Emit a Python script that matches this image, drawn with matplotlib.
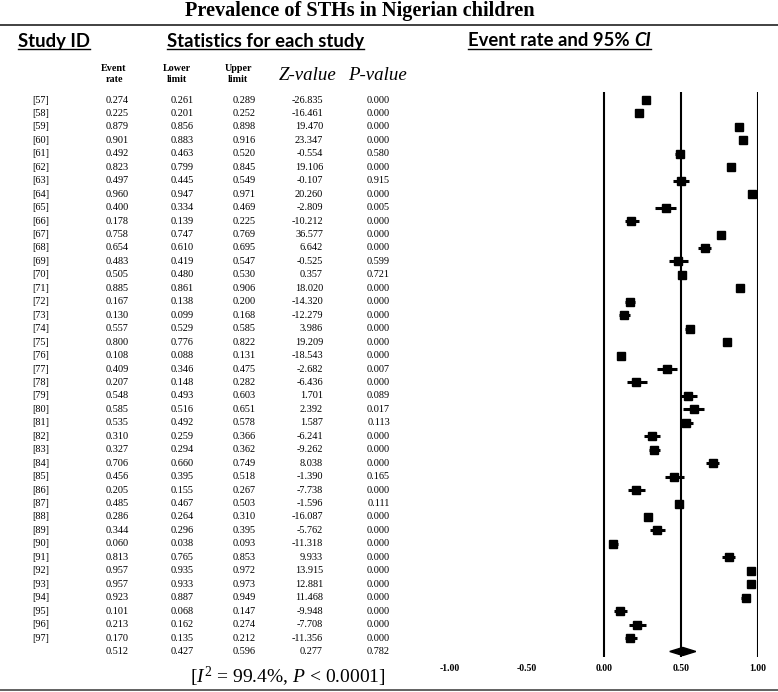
import numpy as np
import matplotlib
matplotlib.use('Agg')
import matplotlib.pyplot as plt
import matplotlib.transforms as mtransforms
from matplotlib.patches import Polygon

# study data
study_ids = ['[%d]' % n for n in range(57, 98)]
event_rate = [0.274, 0.225, 0.879, 0.901, 0.492, 0.823, 0.497, 0.960, 0.400, 0.178,
              0.758, 0.654, 0.483, 0.505, 0.885, 0.167, 0.130, 0.557, 0.800, 0.108,
              0.409, 0.207, 0.548, 0.585, 0.535, 0.310, 0.327, 0.706, 0.456, 0.205,
              0.485, 0.286, 0.344, 0.060, 0.813, 0.957, 0.957, 0.923, 0.101, 0.213, 0.170]
lower = [0.261, 0.201, 0.856, 0.883, 0.463, 0.799, 0.445, 0.947, 0.334, 0.139,
         0.747, 0.610, 0.419, 0.480, 0.861, 0.138, 0.099, 0.529, 0.776, 0.088,
         0.346, 0.148, 0.493, 0.516, 0.492, 0.259, 0.294, 0.660, 0.395, 0.155,
         0.467, 0.264, 0.296, 0.038, 0.765, 0.935, 0.933, 0.887, 0.068, 0.162, 0.135]
upper = [0.289, 0.252, 0.898, 0.916, 0.520, 0.845, 0.549, 0.971, 0.469, 0.225,
         0.769, 0.695, 0.547, 0.530, 0.906, 0.200, 0.168, 0.585, 0.822, 0.131,
         0.475, 0.282, 0.603, 0.651, 0.578, 0.366, 0.362, 0.749, 0.518, 0.267,
         0.503, 0.310, 0.395, 0.093, 0.853, 0.972, 0.973, 0.949, 0.147, 0.274, 0.212]
z_value = [-26.835, -16.461, 19.470, 23.347, -0.554, 19.106, -0.107, 20.260, -2.809, -10.212,
           36.577, 6.642, -0.525, 0.357, 18.020, -14.320, -12.279, 3.986, 19.209, -18.543,
           -2.682, -6.436, 1.701, 2.392, 1.587, -6.241, -9.262, 8.038, -1.390, -7.738,
           -1.596, -16.087, -5.762, -11.318, 9.933, 13.915, 12.881, 11.468, -9.948, -7.708, -11.356]
p_value = [0.000, 0.000, 0.000, 0.000, 0.580, 0.000, 0.915, 0.000, 0.005, 0.000,
           0.000, 0.000, 0.599, 0.721, 0.000, 0.000, 0.000, 0.000, 0.000, 0.000,
           0.007, 0.000, 0.089, 0.017, 0.113, 0.000, 0.000, 0.000, 0.165, 0.000,
           0.111, 0.000, 0.000, 0.000, 0.000, 0.000, 0.000, 0.000, 0.000, 0.000, 0.000]

# pooled estimate
pooled = [0.512, 0.427, 0.596, 0.277, 0.782]
tick_vals = [-1.0, -0.5, 0.0, 0.5, 1.0]

SERIF = 'Liberation Serif'
SANS = 'Lato'
W, H = 778, 692

plt.rcParams['mathtext.fontset'] = 'custom'
plt.rcParams['mathtext.rm'] = SERIF
plt.rcParams['mathtext.it'] = SERIF + ':italic'

fig = plt.figure(figsize=(W / 100, H / 100), dpi=100)

# forest plot axes
ax = fig.add_axes([450 / W, 1 - 657 / H, 308 / W, (657 - 92) / H])
n = len(study_ids)
rows = np.arange(n)
ax.set_xlim(-1, 1)
ax.set_ylim(41.41, -0.595)
for v in [0.0, 0.5, 1.0]:
    ax.axvline(v, color='black', lw=1.5, zorder=1)
ax.hlines(rows, lower, upper, color='black', lw=2.2, zorder=2)
ax.plot(event_rate, rows, 's', color='black', ms=5.8, zorder=3)
dh = 0.3
diamond = Polygon([[pooled[1], n], [pooled[0], n - dh], [pooled[2], n], [pooled[0], n + dh]],
                  closed=True, color='black', zorder=3)
ax.add_patch(diamond)
ax.set_xticks(tick_vals)
ax.set_xticklabels(['%.2f' % t for t in tick_vals], fontfamily=SERIF,
                   fontweight='bold', fontsize=7)
ax.tick_params(axis='x', length=0, pad=5)
ax.set_yticks([])
for s in ax.spines.values():
    s.set_visible(False)

# table text, rows aligned with forest axes
tr = mtransforms.blended_transform_factory(fig.transFigure, ax.transData)
fs = 7.4
cols = [(117, 'center'), (182, 'center'), (244.5, 'center'), (323, 'right'), (390, 'right')]
for i in range(n):
    ax.text(32 / W, i, study_ids[i], transform=tr, ha='left', va='center',
            fontfamily=SERIF, fontsize=fs)
    vals = [event_rate[i], lower[i], upper[i], z_value[i], p_value[i]]
    for (x, ha), v in zip(cols, vals):
        ax.text(x / W, i, '%.3f' % v, transform=tr, ha=ha, va='center',
                fontfamily=SERIF, fontsize=fs)
for (x, ha), v in zip(cols, pooled):
    ax.text(x / W, n, '%.3f' % v, transform=tr, ha=ha, va='center',
            fontfamily=SERIF, fontsize=fs)


def fy(py):
    return 1 - py / H


# title and rules
fig.text(360 / W, fy(11), 'Prevalence of STHs in Nigerian children', ha='center', va='center',
         fontfamily=SERIF, fontweight='bold', fontsize=14.6)
fig.add_artist(plt.Line2D([0, 1], [fy(25), fy(25)], color='#333333', lw=1.3))
fig.add_artist(plt.Line2D([0, 1], [fy(690), fy(690)], color='#555555', lw=1.3))

# underlined headers
hfs = 13.3
hdr_texts = []
for x, s in [(18, 'Study ID'), (167, 'Statistics for each study'), (468, 'Event rate and 95% ')]:
    t = fig.text(x / W, fy(41), s, ha='left', va='center',
                 fontfamily=SANS, fontweight='bold', fontsize=hfs)
    hdr_texts.append(t)

fig.canvas.draw()
r = fig.canvas.get_renderer()
ci_bb = hdr_texts[2].get_window_extent(r)
ci_t = fig.text(ci_bb.x1 / W, fy(41), 'CI', ha='left', va='center', fontfamily=SANS,
                fontweight='bold', fontstyle='italic', fontsize=hfs)
fig.canvas.draw()
for t in hdr_texts:
    bb = t.get_window_extent(r)
    x1 = bb.x1
    if t is hdr_texts[2]:
        x1 = ci_t.get_window_extent(r).x1
    fig.add_artist(plt.Line2D([bb.x0 / W, x1 / W], [fy(49), fy(49)], color='black', lw=1.0))

# column sub-headers
for x, s in [(114, 'Event\nrate'), (177, 'Lower\nlimit'), (238, 'Upper\nlimit')]:
    fig.text(x / W, fy(74), s, ha='center', va='center', fontfamily=SERIF,
             fontweight='bold', fontsize=7.3, linespacing=1.3)
fig.text(308 / W, fy(75), 'Z-value', ha='center', va='center', fontfamily=SERIF,
         fontstyle='italic', fontsize=13.6)
fig.text(377 / W, fy(75), 'P-value', ha='center', va='center', fontfamily=SERIF,
         fontstyle='italic', fontsize=13.6)

# heterogeneity
fig.text(288 / W, fy(677), r'[$I^2$ = 99.4%, $P$ < 0.0001]', ha='center', va='center',
         fontfamily=SERIF, fontsize=14)

fig.savefig('out.png', dpi=100)
